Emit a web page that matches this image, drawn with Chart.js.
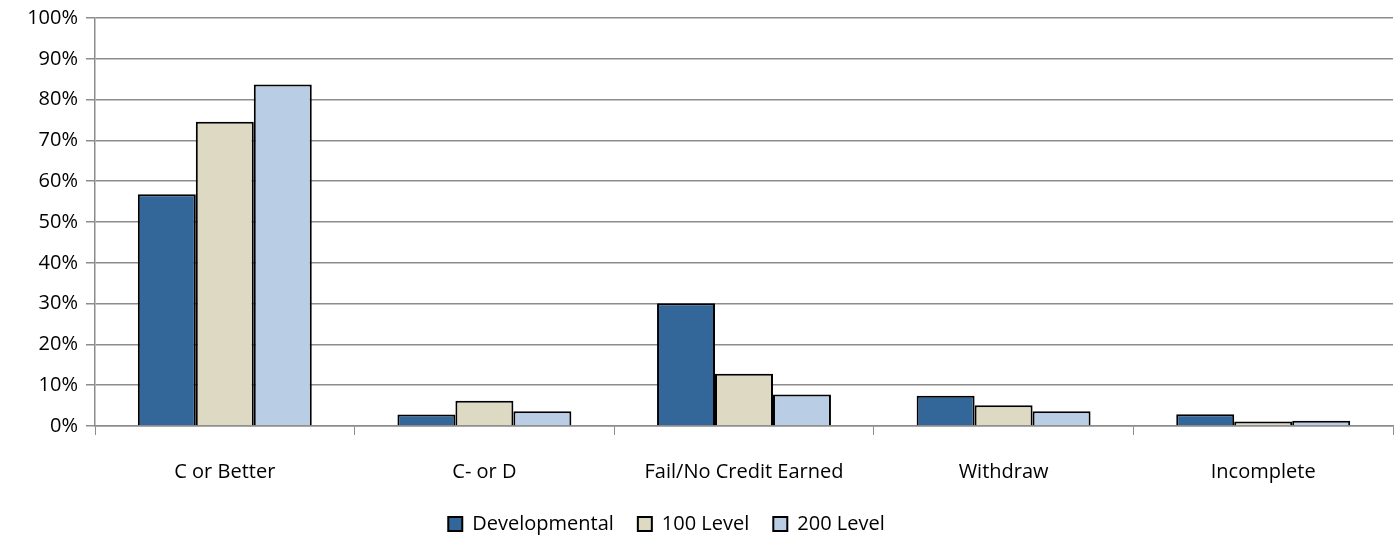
<!DOCTYPE html>
<html>
<head>
<meta charset="utf-8">
<script src="https://cdn.jsdelivr.net/npm/chart.js@4"></script>
<style>
  body { margin: 0; background: #fff; }
  #wrap { width: 1400px; height: 550px; }
</style>
</head>
<body>
<div id="wrap"><canvas id="myChart" width="1400" height="550"></canvas></div>
<script>
// data
const categories = ['C or Better', 'C- or D', 'Fail/No Credit Earned', 'Withdraw', 'Incomplete'];
const developmental = [56.8, 2.8, 30.1, 7.4, 2.9];
const level100 = [74.6, 6.2, 12.8, 5.1, 1.1];
const level200 = [83.7, 3.6, 7.7, 3.6, 1.3];
const yTicks = [0, 10, 20, 30, 40, 50, 60, 70, 80, 90, 100];

const fontFamily = '"Open Sans", Lato, sans-serif';
const gridColor = '#8c8c8c';

// move the legend a bit to the left, like the original
const legendShift = {
  id: 'legendShift',
  afterLayout(chart) {
    chart.legend.left -= 30;
    chart.legend.right -= 30;
  }
};

const ctx = document.getElementById('myChart').getContext('2d');

const myChart = new Chart(ctx, {
  type: 'bar',
  data: {
    labels: categories,
    datasets: [
      { label: 'Developmental', data: developmental, backgroundColor: '#336699', borderColor: '#000', borderWidth: 2 },
      { label: '100 Level', data: level100, backgroundColor: '#ddd9c3', borderColor: '#000', borderWidth: 2 },
      { label: '200 Level', data: level200, backgroundColor: '#b9cde5', borderColor: '#000', borderWidth: 2 }
    ]
  },
  options: {
    responsive: false,
    animation: false,
    layout: { padding: { top: 13, right: 7, bottom: 6, left: 0 } },
    datasets: {
      bar: { categoryPercentage: 0.67, barPercentage: 1.0 }
    },
    plugins: {
      legend: {
        position: 'bottom',
        labels: {
          font: { family: fontFamily, size: 20 },
          color: '#000',
          boxWidth: 14,
          boxHeight: 14,
          padding: 24
        }
      },
      tooltip: { enabled: false }
    },
    scales: {
      x: {
        grid: { offset: true, drawOnChartArea: false, color: gridColor, tickLength: 9, lineWidth: 1 },
        border: { color: gridColor, width: 1.5 },
        ticks: { font: { family: fontFamily, size: 20 }, color: '#000', padding: 25, maxRotation: 0 },
        afterFit(scale) { scale.height = 64; }
      },
      y: {
        min: 0,
        max: 100,
        afterBuildTicks(scale) { scale.ticks = yTicks.map(v => ({ value: v })); },
        grid: { color: gridColor, lineWidth: 1.5, tickLength: 9 },
        border: { color: gridColor, width: 1.5 },
        ticks: {
          font: { family: fontFamily, size: 20, lineHeight: 1 },
          color: '#000',
          padding: 8,
          callback: v => v + '%'
        },
        afterFit(scale) { scale.width = 95; }
      }
    }
  },
  plugins: [legendShift]
});
</script>
</body>
</html>
